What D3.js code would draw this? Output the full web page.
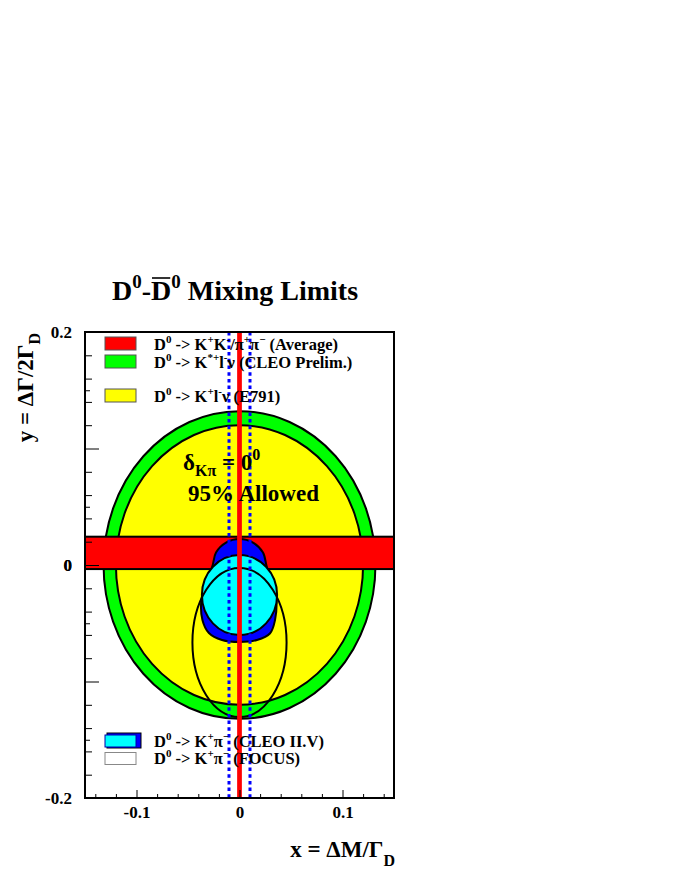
<!DOCTYPE html>
<html>
<head>
<meta charset="utf-8">
<script src="https://cdn.jsdelivr.net/npm/d3@7"></script>
<style>
html,body{margin:0;padding:0;background:#fff;}
svg text{font-family:"Liberation Serif","Times New Roman",serif;font-weight:bold;fill:#000;}
</style>
</head>
<body>
<svg id="chart" width="681" height="881"></svg>
<script>
// ---- data ----
const xDomain = [-0.15, 0.15];
const yDomain = [-0.2, 0.2];
const xTickLabels = [-0.1, 0, 0.1];
const yTickLabels = [-0.2, 0, 0.2];
const xMajorTicks = [-0.1, 0, 0.1];
const xMinorTicks = [-0.14, -0.12, -0.08, -0.06, -0.04, -0.02, 0.02, 0.04, 0.06, 0.08, 0.12, 0.14];
const yMajorTicks = [-0.1, 0, 0.1];
const yMinorTicks = [-0.18, -0.16, -0.14, -0.12, -0.08, -0.06, -0.04, -0.02, 0.02, 0.04, 0.06, 0.08, 0.12, 0.14, 0.16, 0.18];
const yTertiaryTicks = [-0.15, -0.05, 0.05, 0.15];

// CLEO prelim K*+ l- nu (circle radius), E791 K+ l- nu (circle radius)
const cleoSemilepRadius = 0.132;
const e791Radius = 0.12;
// K+K-/pi+pi- average band in y
const kkPiPiBand = [-0.0035, 0.0243];
// vertical red band at x = 0 and blue dotted limits
const xRedBand = [-0.0023, 0.0023];
const xDottedLimits = [-0.0102, 0.0102];
// CLEO II.V contour (outer, blue)
const cleoContourX = [0, 0.0131, 0.0228, 0.0263, 0.0300, 0.0345, 0.0360, 0.0345, 0.0297, 0.017, 0, -0.017, -0.0297, -0.0360, -0.0370, -0.0335, -0.0263, -0.0228, -0.0131];
const cleoContourY = [0.0223, 0.0192, 0.0107, -0.0009, -0.0120, -0.0200, -0.0300, -0.0472, -0.0586, -0.0644, -0.0661, -0.0644, -0.0584, -0.0472, -0.0300, -0.0180, -0.0009, 0.0107, 0.0192];
// CLEO II.V inner (cyan) ellipse: center, radii
const cleoInnerCenter = [0, -0.0258];
const cleoInnerRadii = [0.0365, 0.0343];
// FOCUS ellipse: center, radii
const focusCenter = [0, -0.0665];
const focusRadii = [0.0457, 0.064];

const legendTop = [
  {color: "#ff0000", parts: [["D"], ["0", "sup"], [" -> K"], ["+", "sup"], ["K"], ["-", "sup"], ["/π"], ["+", "sup"], ["π"], ["−", "sup"], [" (Average)"]]},
  {color: "#00ff00", parts: [["D"], ["0", "sup"], [" -> K"], ["*+", "sup"], ["l"], ["-", "sup"], ["ν (CLEO Prelim.)"]]},
  {color: "#ffff00", parts: [["D"], ["0", "sup"], [" -> K"], ["+", "sup"], ["l"], ["-", "sup"], ["ν (E791)"]]}
];
const legendBottom = [
  {color: "#00ffff", parts: [["D"], ["0", "sup"], [" -> K"], ["+", "sup"], ["π"], ["−", "sup"], [" (CLEO II.V)"]]},
  {color: "#ffffff", parts: [["D"], ["0", "sup"], [" -> K"], ["+", "sup"], ["π"], ["−", "sup"], [" (FOCUS)"]]}
];

// ---- layout ----
const svg = d3.select("#chart");
const frame = {left: 85, right: 394, top: 332, bottom: 798};
const x = d3.scaleLinear().domain(xDomain).range([frame.left, frame.right]);
const y = d3.scaleLinear().domain(yDomain).range([frame.bottom, frame.top]);

const defs = svg.append("defs");
defs.append("clipPath").attr("id", "clip").append("rect")
  .attr("x", frame.left).attr("y", frame.top)
  .attr("width", frame.right - frame.left).attr("height", frame.bottom - frame.top);

// rich text helper
function rich(sel, parts, baseSize, subSize) {
  let shift = 0;
  parts.forEach(([t, kind]) => {
    let target = 0, size = baseSize;
    if (kind === "sup") { target = -baseSize * 0.42; size = subSize; }
    if (kind === "sub") { target = baseSize * 0.3; size = subSize; }
    sel.append("tspan").attr("dy", target - shift).attr("font-size", size).text(t);
    shift = target;
  });
}

const plot = svg.append("g").attr("clip-path", "url(#clip)");

// green & yellow circles
plot.append("ellipse")
  .attr("cx", x(0)).attr("cy", y(0))
  .attr("rx", x(cleoSemilepRadius) - x(0)).attr("ry", y(0) - y(cleoSemilepRadius))
  .attr("fill", "#00ff00").attr("stroke", "#000").attr("stroke-width", 2);
plot.append("ellipse")
  .attr("cx", x(0)).attr("cy", y(0))
  .attr("rx", x(e791Radius) - x(0)).attr("ry", y(0) - y(e791Radius))
  .attr("fill", "#ffff00").attr("stroke", "#000").attr("stroke-width", 2);

// red K+K- band
plot.append("rect")
  .attr("x", x(xDomain[0]) - 2).attr("width", x(xDomain[1]) - x(xDomain[0]) + 4)
  .attr("y", y(kkPiPiBand[1])).attr("height", y(kkPiPiBand[0]) - y(kkPiPiBand[1]))
  .attr("fill", "#ff0000").attr("stroke", "#000").attr("stroke-width", 2);

// text in plot (drawn before lines)
const t1 = svg.append("text").attr("x", 183).attr("y", 470).attr("font-size", 23);
t1.append("tspan").text("δ");
t1.append("tspan").attr("dy", 6).attr("font-size", 16).text("Kπ");
t1.append("tspan").attr("dy", -6).text(" = 0");
t1.append("tspan").attr("dy", -10).attr("font-size", 16).text("0");
svg.append("text").attr("x", 188).attr("y", 501).attr("font-size", 23).text("95% Allowed");

// CLEO II.V blue contour
const contourPts = cleoContourX.map((v, i) => [x(v), y(cleoContourY[i])]);
plot.append("path")
  .attr("d", d3.line().curve(d3.curveCatmullRomClosed)(contourPts))
  .attr("fill", "#0000ff").attr("stroke", "#000").attr("stroke-width", 2);
plot.append("ellipse")
  .attr("cx", x(cleoInnerCenter[0])).attr("cy", y(cleoInnerCenter[1]))
  .attr("rx", x(cleoInnerRadii[0]) - x(0)).attr("ry", y(0) - y(cleoInnerRadii[1]))
  .attr("fill", "#00ffff").attr("stroke", "#000").attr("stroke-width", 2);
// FOCUS ellipse
plot.append("ellipse")
  .attr("cx", x(focusCenter[0])).attr("cy", y(focusCenter[1]))
  .attr("rx", x(focusRadii[0]) - x(0)).attr("ry", y(0) - y(focusRadii[1]))
  .attr("fill", "none").attr("stroke", "#000").attr("stroke-width", 2);

// legends
const legTopY = [337, 355, 389];
legendTop.forEach((d, i) => {
  svg.append("rect").attr("x", 105).attr("y", legTopY[i]).attr("width", 31).attr("height", 13)
    .attr("fill", d.color).attr("stroke", "#555").attr("stroke-width", 1);
  const t = svg.append("text").attr("x", 154).attr("y", legTopY[i] + 12.5).attr("font-size", 16.5);
  rich(t, d.parts, 16.5, 11);
});
// CLEO II.V legend box (blue shadow + cyan)
svg.append("rect").attr("x", 107).attr("y", 733).attr("width", 34).attr("height", 15)
  .attr("fill", "#0000ff").attr("stroke", "#000").attr("stroke-width", 1);
svg.append("rect").attr("x", 105).attr("y", 735).attr("width", 31).attr("height", 12)
  .attr("fill", "#00ffff").attr("stroke", "#0000aa").attr("stroke-width", 1);
svg.append("rect").attr("x", 105).attr("y", 752.5).attr("width", 31).attr("height", 12)
  .attr("fill", "#ffffff").attr("stroke", "#888").attr("stroke-width", 1);
const legBotY = [747, 764];
legendBottom.forEach((d, i) => {
  const t = svg.append("text").attr("x", 154).attr("y", legBotY[i]).attr("font-size", 16.5);
  rich(t, d.parts, 16.5, 11);
});

// dotted blue limits and red vertical band (on top)
xDottedLimits.forEach(v => {
  plot.append("line").attr("x1", x(v)).attr("x2", x(v)).attr("y1", frame.top).attr("y2", frame.bottom)
    .attr("stroke", "#0000ff").attr("stroke-width", 3).attr("stroke-dasharray", "3.5,3.2");
});
plot.append("rect")
  .attr("x", x(xRedBand[0])).attr("width", x(xRedBand[1]) - x(xRedBand[0]))
  .attr("y", frame.top).attr("height", frame.bottom - frame.top)
  .attr("fill", "#ff0000");

// axes
const fmt = d => (d === 0 ? "0" : d3.format(".1f")(d).replace("−", "-"));
const gx = svg.append("g").attr("transform", `translate(0,${frame.bottom})`);
gx.call(d3.axisBottom(x).tickValues(xMinorTicks).tickSize(-4).tickFormat(""));
gx.call(g => g.select(".domain").remove());
const gx2 = svg.append("g").attr("transform", `translate(0,${frame.bottom})`);
gx2.call(d3.axisBottom(x).tickValues(xMajorTicks).tickSize(-8).tickPadding(8)
  .tickFormat(d => xTickLabels.includes(d) ? fmt(d) : ""));
gx2.select(".domain").remove();
gx2.selectAll("text").attr("font-size", 17).attr("font-family", null);

const gy = svg.append("g").attr("transform", `translate(${frame.left},0)`);
gy.call(d3.axisLeft(y).tickValues(yMinorTicks).tickSize(-7).tickFormat(""));
gy.select(".domain").remove();
const gy3 = svg.append("g").attr("transform", `translate(${frame.left},0)`);
gy3.call(d3.axisLeft(y).tickValues(yTertiaryTicks).tickSize(-5).tickFormat(""));
gy3.select(".domain").remove();
const gy2 = svg.append("g").attr("transform", `translate(${frame.left},0)`);
gy2.call(d3.axisLeft(y).tickValues(yMajorTicks.concat(yTickLabels)).tickSize(-14).tickPadding(13)
  .tickFormat(d => yTickLabels.includes(d) ? fmt(d) : ""));
gy2.select(".domain").remove();
gy2.selectAll("text").attr("font-size", 17).attr("font-family", null);
svg.selectAll(".tick line").attr("stroke", "#000").attr("stroke-width", 1);

// frame
svg.append("rect").attr("x", frame.left).attr("y", frame.top)
  .attr("width", frame.right - frame.left).attr("height", frame.bottom - frame.top)
  .attr("fill", "none").attr("stroke", "#000").attr("stroke-width", 2);

// title
const title = svg.append("text").attr("x", 235).attr("y", 300).attr("text-anchor", "middle").attr("font-size", 28);
title.append("tspan").text("D");
title.append("tspan").attr("dy", -12).attr("font-size", 19).text("0");
title.append("tspan").attr("dy", 12).text("-");
title.append("tspan").attr("id", "dbar").text("D");
title.append("tspan").attr("dy", -12).attr("font-size", 19).text("0");
title.append("tspan").attr("dy", 12).text(" Mixing Limits");
// overbar over second D
const dbarNode = title.select("#dbar").node();
const bb = dbarNode.getExtentOfChar ? dbarNode.getExtentOfChar(0) : null;
if (bb) {
  svg.append("line").attr("x1", bb.x + 1).attr("x2", bb.x + bb.width - 1)
    .attr("y1", 278).attr("y2", 278).attr("stroke", "#000").attr("stroke-width", 1.6);
}

// x title
const xt = svg.append("text").attr("x", 395).attr("y", 857).attr("text-anchor", "end").attr("font-size", 23);
xt.append("tspan").text("x = ΔM/Γ");
xt.append("tspan").attr("dy", 9).attr("font-size", 16).text("D");

// y title
const yt = svg.append("text").attr("transform", "translate(33,333) rotate(-90)")
  .attr("text-anchor", "end").attr("font-size", 23);
yt.append("tspan").text("y = ΔΓ/2Γ");
yt.append("tspan").attr("dy", 7).attr("font-size", 16).text("D");
</script>
</body>
</html>
